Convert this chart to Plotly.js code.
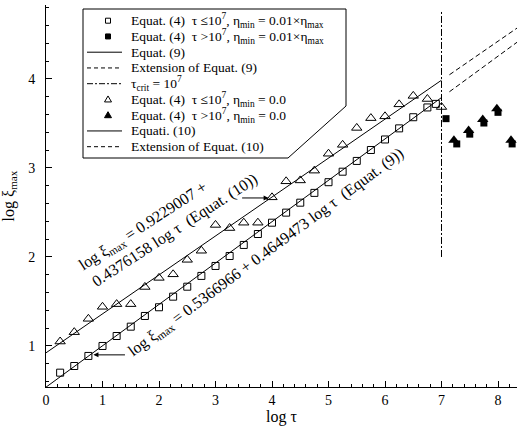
<!DOCTYPE html>
<html><head><meta charset="utf-8">
<script src="https://cdn.plot.ly/plotly-3.0.1.min.js"></script>
<style>html,body{margin:0;padding:0;background:#fff;}#c{width:517px;height:428px;}</style>
</head><body><div id="c"></div>
<script>
// ---- data ----
const sqOpenX = [0.25,0.5,0.75,1.0,1.25,1.5,1.75,2.0,2.25,2.5,2.75,3.0,3.25,3.5,3.75,4.0,4.25,4.5,4.75,5.0,5.25,5.5,5.75,6.0,6.25,6.5,6.75,6.9];
const sqOpenY = [0.70,0.775,0.888,1.0,1.112,1.217,1.337,1.435,1.554,1.666,1.787,1.899,2.011,2.135,2.258,2.385,2.498,2.61,2.72,2.84,2.958,3.079,3.202,3.32,3.445,3.57,3.68,3.72];
const sqFillX = [7.08,7.27,7.5,7.75,8.0,8.25];
const sqFillY = [3.554,3.27,3.38,3.505,3.625,3.27];
const triOpenX = [0.25,0.5,0.75,1.0,1.25,1.5,1.75,2.0,2.25,2.5,2.75,3.0,3.25,3.5,3.75,4.0,4.25,4.5,4.75,5.0,5.25,5.5,5.75,6.0,6.25,6.5,6.75,7.0];
const triOpenY = [1.05,1.155,1.305,1.44,1.47,1.47,1.663,1.765,1.805,1.968,2.07,2.36,2.325,2.385,2.385,2.67,2.85,2.86,2.97,3.16,3.26,3.45,3.56,3.58,3.715,3.81,3.775,3.685];
const triFillX = [7.22,7.48,7.73,7.98,8.23];
const triFillY = [3.31,3.42,3.545,3.665,3.31];
const eq9X = [0, 7], eq9Y = [0.537, 3.791];
const ext9X = [7.14, 8.34], ext9Y = [3.856, 4.414];
const eq10X = [0, 7], eq10Y = [0.923, 3.986];
const ext10X = [7.14, 8.34], ext10Y = [4.047, 4.573];
const critX = [7, 7], critY = [2.0, 4.76];
const xTicks = [0,1,2,3,4,5,6,7,8];
const yTicks = [1,2,3,4];

const legendLabels = [
  'Equat. (4)  τ ≤10<sup>7</sup>, η<sub>min</sub> = 0.01×η<sub>max</sub>',
  'Equat. (4)  τ >10<sup>7</sup>, η<sub>min</sub> = 0.01×η<sub>max</sub>',
  'Equat. (9)',
  'Extension of Equat. (9)',
  'τ<sub>crit</sub> = 10<sup>7</sup>',
  'Equat. (4)  τ ≤10<sup>7</sup>, η<sub>min</sub> = 0.0',
  'Equat. (4)  τ >10<sup>7</sup>, η<sub>min</sub> = 0.0',
  'Equati. (10)',
  'Extension of Equat. (10)'
];
const legendKinds = ['sqo','sqf','solid','dash','dashdot','tro','trf','solid','dash'];

const FONT = "'Liberation Serif', 'Times New Roman', serif";
const DASH = '5px,3px';
const DASHDOT = '7px,2px,2px,2px';

const traces = [
  {x:eq9X, y:eq9Y, mode:'lines', line:{color:'black', width:1}},
  {x:ext9X, y:ext9Y, mode:'lines', line:{color:'black', width:1, dash:DASH}},
  {x:eq10X, y:eq10Y, mode:'lines', line:{color:'black', width:1}},
  {x:ext10X, y:ext10Y, mode:'lines', line:{color:'black', width:1, dash:DASH}},
  {x:critX, y:critY, mode:'lines', line:{color:'black', width:1, dash:DASHDOT}},
  {x:sqOpenX, y:sqOpenY, mode:'markers', marker:{symbol:'square-open', size:7, color:'black', line:{width:1}}},
  {x:triOpenX, y:triOpenY, mode:'markers', marker:{symbol:'triangle-up-open', size:9, color:'black', line:{width:1}}},
  {x:sqFillX, y:sqFillY, mode:'markers', marker:{symbol:'square', size:7, color:'black'}},
  {x:triFillX, y:triFillY, mode:'markers', marker:{symbol:'triangle-up', size:10, color:'black'}}
];
traces.forEach(t => { t.showlegend = false; t.hoverinfo = 'skip'; });

// pixel -> paper helpers for the hand-drawn legend box
const L = 46, R = 517, T = 5, B = 387;
const P = x => (x - L) / (R - L);
const Q = y => (B - y) / (B - T);

const shapes = [];
const annotations = [];
shapes.push({type:'path', xref:'paper', yref:'paper', layer:'above',
  path:`M${P(83)},${Q(9)} L${P(346)},${Q(9)} L${P(346)},${Q(106)} L${P(288)},${Q(158)} L${P(83)},${Q(158)} Z`,
  line:{color:'black', width:1}, fillcolor:'white'});
const row0 = 20.7, rowStep = 15.75;
legendKinds.forEach((k, i) => {
  const y = row0 + i * rowStep;
  if (k === 'sqo' || k === 'sqf') {
    shapes.push({type:'rect', xref:'paper', yref:'paper', layer:'above',
      x0:P(105.5), x1:P(110.5), y0:Q(y+2.5), y1:Q(y-2.5),
      line:{color:'black', width:1}, fillcolor: k === 'sqf' ? 'black' : 'white'});
  } else if (k === 'tro' || k === 'trf') {
    shapes.push({type:'path', xref:'paper', yref:'paper', layer:'above',
      path:`M${P(108)},${Q(y-3.5)} L${P(111.5)},${Q(y+2.5)} L${P(104.5)},${Q(y+2.5)} Z`,
      line:{color:'black', width:1}, fillcolor: k === 'trf' ? 'black' : 'white'});
  } else {
    shapes.push({type:'line', xref:'paper', yref:'paper', layer:'above',
      x0:P(87), x1:P(122), y0:Q(y), y1:Q(y),
      line:{color:'black', width:1, dash: k === 'dash' ? '4px,3px' : (k === 'dashdot' ? '6px,2px,2px,2px' : 'solid')}});
  }
  annotations.push({xref:'paper', yref:'paper', x:P(129), y:Q(y), xanchor:'left', yanchor:'middle',
    text:legendLabels[i], showarrow:false, font:{family:FONT, size:13.5, color:'black'}});
});

// equation labels and arrows
annotations.push({x:1.72, y:2.337, text:'log ξ<sub>max</sub> = 0.9229007 +', showarrow:false, textangle:-33,
  font:{family:FONT, size:16, color:'black'}});
annotations.push({x:2.287, y:2.303, text:'0.4376158 log τ  (Equat. (10))', showarrow:false, textangle:-33,
  font:{family:FONT, size:16, color:'black'}});
annotations.push({x:3.9, y:2.05, text:'log ξ<sub>max</sub> = 0.5366966 + 0.4649473 log τ  (Equat. (9))', showarrow:false, textangle:-36.5,
  font:{family:FONT, size:16, color:'black'}});
annotations.push({x:3.94, y:2.663, ax:-28, ay:0, text:'', showarrow:true, arrowhead:2, arrowsize:1, arrowwidth:1, arrowcolor:'black'});
annotations.push({x:0.84, y:0.90, ax:33, ay:0, text:'', showarrow:true, arrowhead:2, arrowsize:1, arrowwidth:1, arrowcolor:'black'});

const layout = {
  width:517, height:428,
  margin:{l:L, r:0, t:T, b:428-B},
  paper_bgcolor:'white', plot_bgcolor:'white',
  font:{family:FONT, color:'black', size:14},
  xaxis:{range:[0, 471/56.5], tickvals:xTicks, ticktext:xTicks.map(String),
    showgrid:false, zeroline:false, showline:true, linecolor:'black', linewidth:1,
    ticks:'inside', ticklen:6, tickcolor:'black', tickwidth:1,
    minor:{dtick:0.2, tick0:0, ticks:'inside', ticklen:3, tickcolor:'black', showgrid:false},
    tickfont:{family:FONT, size:14}, ticklabelstandoff:0,
    title:{text:'log τ', font:{family:FONT, size:16}, standoff:2}},
  yaxis:{range:[0.539, 4.831], tickvals:yTicks, ticktext:yTicks.map(String),
    showgrid:false, zeroline:false, showline:true, linecolor:'black', linewidth:1,
    ticks:'inside', ticklen:6, tickcolor:'black', tickwidth:1,
    minor:{dtick:0.2, tick0:0, ticks:'inside', ticklen:3, tickcolor:'black', showgrid:false},
    tickfont:{family:FONT, size:14}, ticklabelstandoff:7,
    title:{text:'log ξ<sub>max</sub>', font:{family:FONT, size:16}, standoff:10}},
  shapes:shapes, annotations:annotations, showlegend:false
};
Plotly.newPlot('c', traces, layout, {staticPlot:true, displayModeBar:false});
</script></body></html>
